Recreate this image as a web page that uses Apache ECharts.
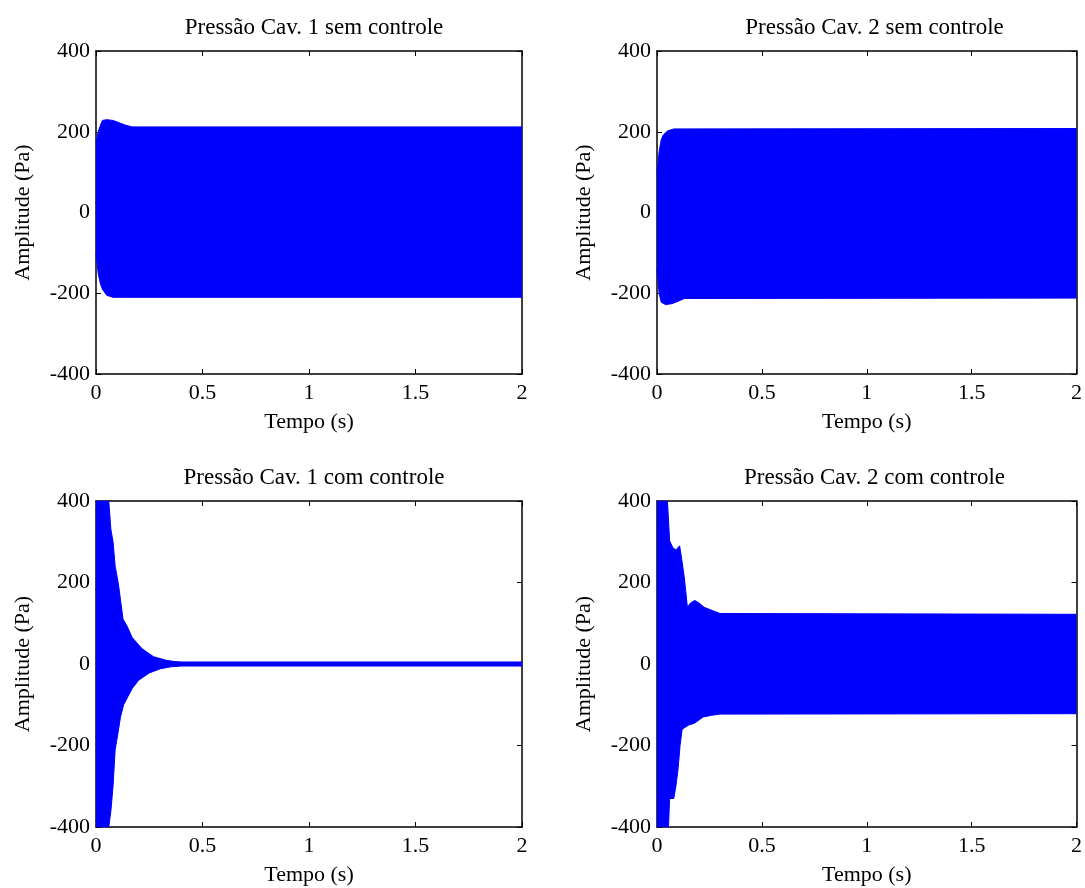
<!DOCTYPE html>
<html>
<head>
<meta charset="utf-8">
<script src="https://cdn.jsdelivr.net/npm/echarts@6/dist/echarts.min.js"></script>
<style>
  html, body { margin: 0; padding: 0; background: #fff; }
  #main { width: 1085px; height: 888px; }
</style>
</head>
<body>
<div id="main"></div>
<script>
// panel titles
const titles = [
    'Pressão Cav. 1 sem controle',
    'Pressão Cav. 2 sem controle',
    'Pressão Cav. 1 com controle',
    'Pressão Cav. 2 com controle'
];
const xTicks = [0, 0.5, 1, 1.5, 2];
const yTicks = [-400, -200, 0, 200, 400];

// envelope of the oscillation (upper / lower peaks)
const t1Up = [0, 0.01, 0.02, 0.03, 0.05, 0.08, 0.11, 0.14, 0.17, 2];
const v1Up = [170, 200, 215, 228, 230, 228, 222, 216, 212, 212];
const t1Lo = [0, 0.01, 0.02, 0.03, 0.05, 0.08, 2];
const v1Lo = [-100, -150, -175, -190, -205, -210, -210];

const t2Up = [0, 0.01, 0.02, 0.03, 0.05, 0.08, 2];
const v2Up = [100, 150, 180, 192, 202, 207, 208];
const t2Lo = [0, 0.01, 0.02, 0.04, 0.07, 0.1, 0.13, 2];
const v2Lo = [-140, -200, -222, -228, -226, -220, -213, -212];

const t3Up = [0, 0.06, 0.07, 0.08, 0.09, 0.105, 0.127, 0.145, 0.17, 0.215, 0.27, 0.33, 0.37, 0.4, 2];
const v3Up = [400, 400, 330, 300, 240, 197, 110, 94, 65, 38, 18, 9, 6, 5, 5];
const t3Lo = [0, 0.06, 0.07, 0.08, 0.09, 0.1, 0.115, 0.13, 0.15, 0.17, 0.2, 0.25, 0.3, 0.35, 0.4, 2];
const v3Lo = [-400, -400, -360, -300, -210, -180, -130, -100, -80, -60, -40, -22, -12, -7, -5, -5];

const t4Up = [0, 0.05, 0.06, 0.075, 0.09, 0.108, 0.12, 0.13, 0.145, 0.16, 0.18, 0.2, 0.225, 0.265, 0.3, 2];
const v4Up = [400, 400, 303, 286, 280, 290, 250, 213, 139, 150, 156, 150, 139, 131, 124, 122];
const t4Lo = [0, 0.055, 0.06, 0.08, 0.09, 0.1, 0.11, 0.12, 0.15, 0.18, 0.22, 0.26, 0.3, 2];
const v4Lo = [-400, -400, -330, -330, -300, -260, -200, -160, -150, -145, -130, -126, -123, -122];

const panels = [
    { up: [t1Up, v1Up], lo: [t1Lo, v1Lo] },
    { up: [t2Up, v2Up], lo: [t2Lo, v2Lo] },
    { up: [t3Up, v3Up], lo: [t3Lo, v3Lo] },
    { up: [t4Up, v4Up], lo: [t4Lo, v4Lo] }
];

const font = '"Liberation Serif", "Times New Roman", serif';
const grids = [
    { left: 96, top: 51, width: 426, height: 323 },
    { left: 657, top: 51, width: 425, height: 323 },
    { left: 96, top: 501, width: 426, height: 326 },
    { left: 657, top: 501, width: 425, height: 326 }
];

function pairs(ts, vs) {
    return ts.map((t, i) => [t, vs[i]]);
}

let option = {
    animation: false,
    backgroundColor: '#fff',
    title: [],
    grid: [],
    xAxis: [],
    yAxis: [],
    series: []
};

grids.forEach((g, i) => {
    option.grid.push(Object.assign({ containLabel: false }, g));
    option.title.push({
        text: titles[i],
        left: g.left + g.width / 2,
        top: g.top - 40,
        textAlign: 'center',
        textStyle: { fontFamily: font, fontSize: 23, fontWeight: 'normal', color: '#000' }
    });

    const line = { show: true, onZero: false, lineStyle: { color: '#000', width: 1.5 } };
    const tick = { show: true, inside: true, length: 5, lineStyle: { color: '#000' } };
    const label = { fontFamily: font, fontSize: 22, color: '#000' };

    // bottom / left axes with labels
    option.xAxis.push({
        gridIndex: i, type: 'value', min: 0, max: 2, interval: 0.5,
        axisLine: line, axisTick: tick, splitLine: { show: false },
        axisLabel: { ...label, margin: 8, formatter: v => xTicks.includes(v) ? String(v) : '' },
        name: 'Tempo (s)', nameLocation: 'middle', nameGap: 37,
        nameTextStyle: { fontFamily: font, fontSize: 22, color: '#000' }
    });
    option.yAxis.push({
        gridIndex: i, type: 'value', min: -400, max: 400, interval: 200,
        axisLine: line, axisTick: tick, splitLine: { show: false },
        axisLabel: { ...label, margin: 6, formatter: v => yTicks.includes(v) ? String(v) : '' },
        name: 'Amplitude (Pa)', nameLocation: 'middle', nameGap: 62,
        nameTextStyle: { fontFamily: font, fontSize: 22, color: '#000' }
    });
    // top / right axes to close the box
    option.xAxis.push({
        gridIndex: i, type: 'value', min: 0, max: 2, interval: 0.5, position: 'top',
        axisLine: line, axisTick: tick, splitLine: { show: false }, axisLabel: { show: false }
    });
    option.yAxis.push({
        gridIndex: i, type: 'value', min: -400, max: 400, interval: 200, position: 'right',
        axisLine: line, axisTick: tick, splitLine: { show: false }, axisLabel: { show: false }
    });

    const p = panels[i];
    [p.up, p.lo].forEach((env, k) => {
        const s = {
            type: 'line',
            xAxisIndex: i * 2,
            yAxisIndex: i * 2,
            data: pairs(env[0], env[1]),
            showSymbol: false,
            clip: true,
            color: '#0000ff',
            lineStyle: { color: '#0000ff', width: 1 },
            areaStyle: { color: '#0000ff', opacity: 1, origin: 0 },
            z: 1
        };
        if (k === 0) {
            // cover the seam where the two filled halves meet at zero
            s.markLine = {
                silent: true, symbol: 'none', label: { show: false },
                lineStyle: { color: '#0000ff', width: 3, type: 'solid' },
                data: [{ yAxis: 0 }]
            };
        }
        option.series.push(s);
    });
});

const myChart = echarts.init(document.getElementById('main'));
myChart.setOption(option);
</script>
</body>
</html>
